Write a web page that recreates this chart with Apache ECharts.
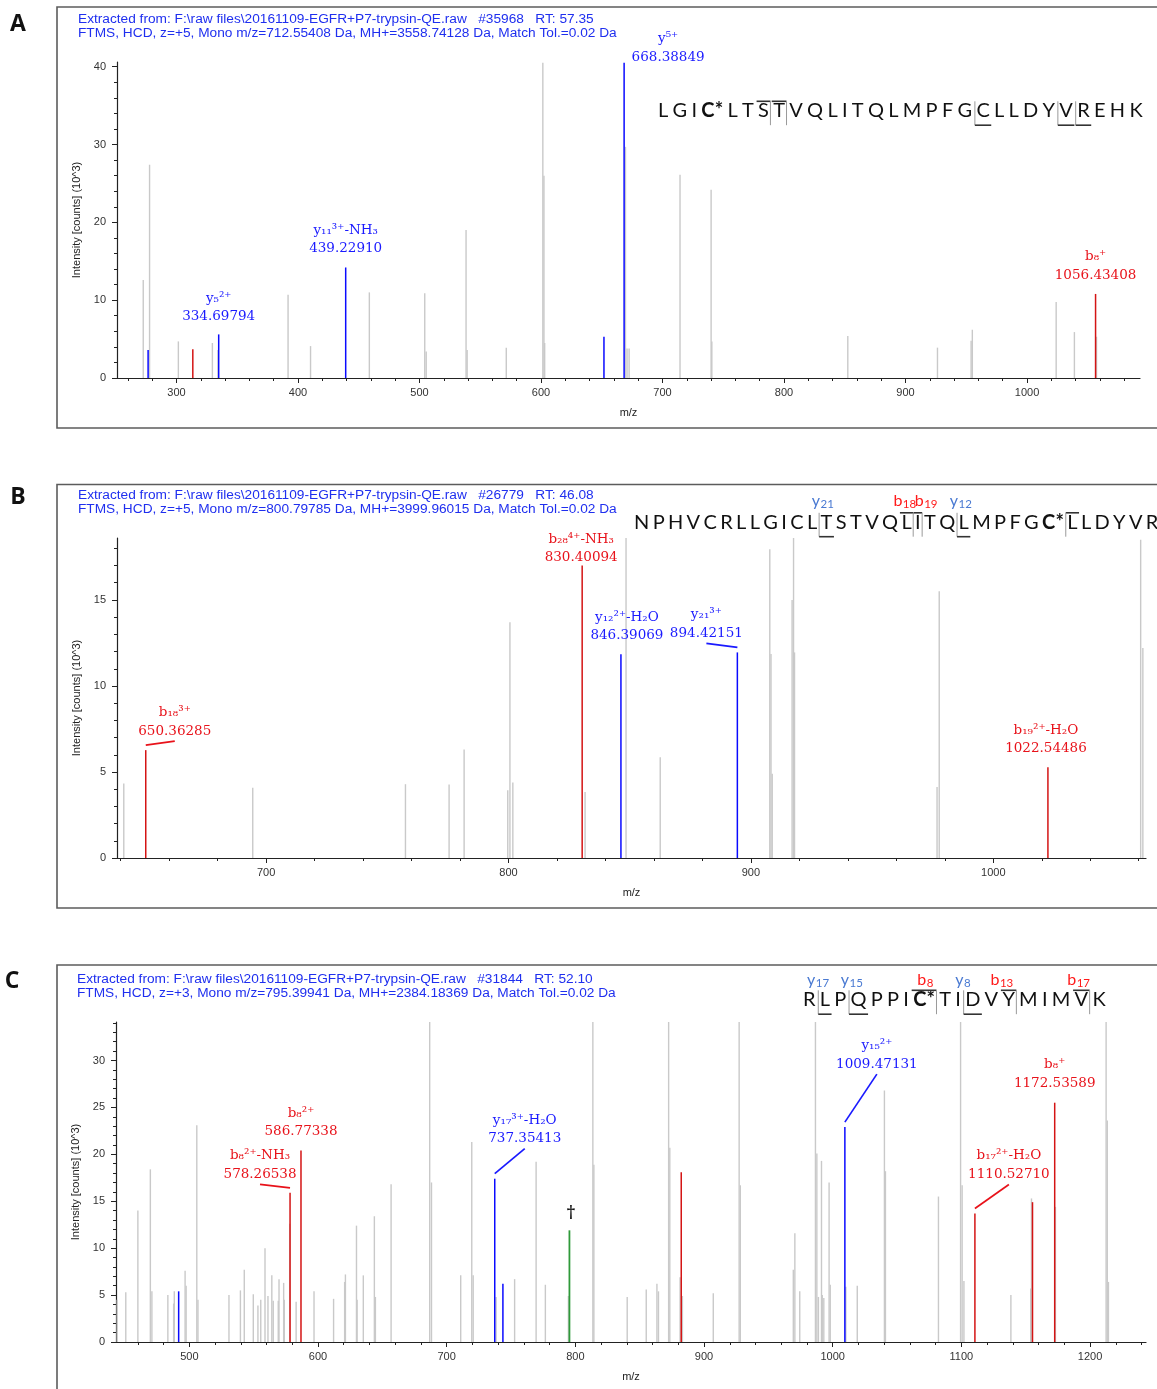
<!DOCTYPE html>
<html><head><meta charset="utf-8">
<script src="https://cdn.jsdelivr.net/npm/echarts@6/dist/echarts.min.js"></script>
<style>html,body{margin:0;padding:0;background:#fff}#c{width:1157px;height:1389px}</style>
</head><body><div id="c"></div>
<script>
// ---------------- DATA ----------------
// Panel A peaks [m/z, intensity (10^3)]
const A_gray = [[272.6,12.6],[277.8,27.4],[301.5,4.7],[329.5,4.5],[334.1,3.6],[391.8,10.7],[410.3,4.1],[458.7,11.0],[504.3,10.9],[505.5,3.4],[538.3,19.0],[539.2,3.6],[571.4,3.9],[601.5,40.5],[602.4,26.0],[603.0,4.5],[669.5,29.7],[670.8,3.8],[672.5,3.8],[714.4,26.1],[740.0,24.2],[740.6,4.7],[852.5,5.4],[926.3,3.9],[954.0,4.8],[955.0,6.2],[1024.0,9.75],[1039.0,5.9],[1057.2,5.3]];
const A_blue = [[276.6,3.6],[334.7,5.6],[439.23,14.2],[651.8,5.3],[668.39,40.5]];
const A_red = [[313.4,3.7],[1056.43,10.8]];
const A_ann = [[334.69794,5.6,'y\u2085\u00b2\u207a','334.69794'],[439.2291,14.2,'y\u2081\u2081\u00b3\u207a-NH\u2083','439.22910'],[668.38849,40.5,'y\u2075\u207a','668.38849'],[1056.43408,10.8,'b\u2088\u207a','1056.43408']];
const A_xTicks = [300,400,500,600,700,800,900,1000];
const A_yTicks = [0,10,20,30,40];

// Panel B peaks
const B_gray = [[641.3,4.33],[694.5,4.08],[757.5,4.29],[775.5,4.27],[781.7,6.3],[799.7,3.94],[800.6,13.7],[801.8,4.39],[831.6,3.84],[848.5,18.6],[862.6,5.86],[907.8,17.95],[908.3,11.86],[908.8,4.9],[917.0,15.0],[917.6,18.6],[918.0,11.95],[976.8,4.13],[977.7,15.5],[1060.8,18.5],[1061.7,12.2]];
const B_blue = [[846.39,11.84],[894.42,11.95]];
const B_red = [[650.36,6.27],[830.40,17.0],[1022.54,5.28]];
const B_ann = [[650.36285,6.27,'b\u2081\u2088\u00b3\u207a','650.36285'],[830.40094,17.0,'b\u2082\u2088\u2074\u207a-NH\u2083','830.40094'],[846.39069,11.84,'y\u2081\u2082\u00b2\u207a-H\u2082O','846.39069'],[894.42151,11.95,'y\u2082\u2081\u00b3\u207a','894.42151'],[1022.54486,5.28,'b\u2081\u2089\u00b2\u207a-H\u2082O','1022.54486']];
const B_xTicks = [700,800,900,1000];
const B_yTicks = [0,5,10,15];

// Panel C peaks
const C_gray = [[443.9,4.5],[450.6,5.3],[460.0,14.0],[469.7,18.4],[470.9,5.4],[483.3,5.0],[487.8,4.1],[488.3,5.4],[496.7,7.6],[497.5,6.0],[505.8,23.1],[506.7,4.5],[530.8,5.0],[539.7,5.5],[542.7,7.7],[549.7,5.1],[553.3,3.9],[555.5,4.5],[558.8,10.0],[561.1,4.9],[564.1,7.1],[565.2,4.4],[569.1,4.4],[569.7,6.7],[573.3,6.3],[573.8,4.5],[578.0,12.6],[583.0,4.3],[596.9,5.4],[612.1,4.6],[620.7,6.4],[621.3,7.2],[629.9,12.4],[630.4,4.5],[635.2,7.1],[643.8,13.4],[644.6,4.8],[656.8,16.8],[686.8,34.1],[688.2,17.0],[710.9,7.1],[719.5,21.3],[720.6,7.1],[738.4,4.8],[752.8,6.7],[769.5,19.2],[776.7,6.1],[794.6,4.9],[813.6,34.1],[814.4,18.9],[840.3,4.8],[855.1,5.6],[863.4,6.2],[864.6,5.4],[872.5,34.1],[873.4,20.7],[881.4,6.9],[883.2,4.9],[907.2,5.2],[927.3,34.1],[928.2,16.7],[969.4,7.7],[970.6,11.6],[974.4,5.4],[986.6,34.1],[987.7,20.1],[988.9,4.8],[991.3,19.3],[991.9,5.0],[993.1,4.7],[997.2,17.0],[998.1,6.1],[1010.2,5.9],[1019.1,6.0],[1040.2,26.8],[1041.0,18.2],[1082.2,15.5],[1099.4,34.1],[1100.6,16.7],[1102.0,6.5],[1138.5,5.0],[1153.9,5.7],[1154.5,15.3],[1173.1,14.4],[1212.5,34.1],[1213.4,23.6],[1214.3,6.4]];
const C_blue = [[491.7,5.4],[737.35,17.4],[743.7,6.2],[1009.47,22.9]];
const C_red = [[578.27,15.9],[586.77,20.4],[882.3,18.1],[1110.53,13.7],[1155.3,14.9],[1172.54,25.5]];
const C_green = [[795.4,11.9]];
const C_ann = [[578.26538,15.9,'b\u2088\u00b2\u207a-NH\u2083','578.26538'],[586.77338,20.4,'b\u2088\u00b2\u207a','586.77338'],[737.35413,17.4,'y\u2081\u2087\u00b3\u207a-H\u2082O','737.35413'],[795.4,11.9,'\u2020',''],[1009.47131,22.9,'y\u2081\u2085\u00b2\u207a','1009.47131'],[1172.53589,25.5,'b\u2088\u207a','1172.53589'],[1110.5271,13.7,'b\u2081\u2087\u00b2\u207a-H\u2082O','1110.52710']];
const C_xTicks = [500,600,700,800,900,1000,1100,1200];
const C_yTicks = [0,5,10,15,20,25,30];

// headers
const HEAD = [
 ['Extracted from: F:\\raw files\\20161109-EGFR+P7-trypsin-QE.raw   #35968   RT: 57.35','FTMS, HCD, z=+5, Mono m/z=712.55408 Da, MH+=3558.74128 Da, Match Tol.=0.02 Da'],
 ['Extracted from: F:\\raw files\\20161109-EGFR+P7-trypsin-QE.raw   #26779   RT: 46.08','FTMS, HCD, z=+5, Mono m/z=800.79785 Da, MH+=3999.96015 Da, Match Tol.=0.02 Da'],
 ['Extracted from: F:\\raw files\\20161109-EGFR+P7-trypsin-QE.raw   #31844   RT: 52.10','FTMS, HCD, z=+3, Mono m/z=795.39941 Da, MH+=2384.18369 Da, Match Tol.=0.02 Da']
];
const PANEL_LETTERS = ['A','B','C'];

// peptide sequences and fragment markers
const SEQ_A = 'L G I C* L T S T V Q L I T Q L M P F G C L L D Y V R E H K'.split(' ');
const MARKS_A = [[6,'b'],[7,'b'],[19,'y'],[24,'y'],[25,'y']];
const FRAG_A = [];
const SEQ_B = 'N P H V C R L L G I C L T S T V Q L I T Q L M P F G C* L L D Y V R E H K'.split(' ');
const MARKS_B = [[12,'y'],[17,'b'],[18,'b'],[21,'y'],[27,'bl']];
const FRAG_B = [[12,'y','21'],[17,'b','18'],[18,'b','19'],[21,'y','12']];
const SEQ_C = 'R L P Q P P I C* T I D V Y M I M V K'.split(' ');
const MARKS_C = [[1,'y'],[3,'y'],[7,'b'],[10,'y'],[12,'b'],[16,'b']];
const FRAG_C = [[1,'y','17'],[3,'y','15'],[7,'b','8'],[10,'y','8'],[12,'b','13'],[16,'b','17']];

// ---------------- LAYOUT / STYLE ----------------
const GRIDS = [
 {left:117, top:62, width:1023, height:316, xMin:251, xMax:1093, yMax:40.6, xT:A_xTicks, yT:A_yTicks, xs:20, ys:2},
 {left:117, top:538, width:1029, height:320, xMin:638.5, xMax:1063, yMax:18.6, xT:B_xTicks, yT:B_yTicks, xs:20, ys:1},
 {left:116, top:1022, width:1030, height:320, xMin:443, xMax:1243.5, yMax:34.1, xT:C_xTicks, yT:C_yTicks, xs:20, ys:1}
];
const BOXES = [[57,7,1130,421],[57,484.5,1130,423.5],[57,965,1130,440]];
const HEAD_POS = [[78,19,33],[78,495,509],[77,979,993]];
const LETTER_POS = [[18,24],[18,497],[12,981]];
// label layout: [dx from peak, dy of value line from peak top, leader line]
const A_annPos = [[0,-17.5,0],[0,-18.5,0],[44,-5.5,0],[0,-18.5,0]];
const B_annPos = [[29,-19,1],[-1,-8,0],[6,-18.6,0],[-31,-19,1],[-2,-18.6,0]];
const C_annPos = [[-30,-18.5,1],[0,-19,0],[30,-40,1],[1.5,-17,0],[32,-63,1],[0,-19.6,0],[34,-39,1]];
const PEP = [
 {seq:SEQ_A, marks:MARKS_A, frags:FRAG_A, fdx:[], left:658, ref:28, refC:1136, cy:111, fy:0},
 {seq:SEQ_B, marks:MARKS_B, frags:FRAG_B, fdx:[-4,-2,8,-3], left:634, ref:26, refC:1053, cy:522.5, fy:500.5},
 {seq:SEQ_C, marks:MARKS_C, frags:FRAG_C, fdx:[-7,-7,1,-10,-7,-3], left:803, ref:17, refC:1099, cy:1000, fy:980}
];

const COL = {gray:'#c9c9c9', blue:'#0a0aff', red:'#d41414', green:'#2f9a3a', lblBlue:'#1a1aff', lblRed:'#e8121a', head:'#1f2fef', fragY:'#4a7ad2', fragB:'#ff1a1a'};
const LABEL_FONT = '13.5px "DejaVu Serif"';
const SANS = '"Liberation Sans", Arial, sans-serif';
const PEP_FONT = 20;

// ---------------- BUILD ----------------
const chart = echarts.init(document.getElementById('c'), null, {renderer:'canvas'});
const mctx = document.createElement('canvas').getContext('2d');
function tw(t, font){ mctx.font = font; return mctx.measureText(t).width; }

function minorTicks(min, max, step, majors){
  const out=[]; let v=Math.ceil(min/step)*step;
  for(; v<=max+1e-9; v+=step){ const r=Math.round(v*1000)/1000; if(!majors.includes(r)) out.push(r); }
  return out;
}

const grid=[], xAxis=[], yAxis=[];
const axisText = {fontSize:11, fontFamily:SANS, color:'#333', formatter:function(v){return String(v);}};
GRIDS.forEach((g,i)=>{
  grid.push({left:g.left, top:g.top, width:g.width, height:g.height});
  xAxis.push({type:'value', gridIndex:i, position:'bottom', min:g.xMin, max:g.xMax,
    axisLine:{lineStyle:{color:'#222', width:1.2}},
    axisTick:{customValues:g.xT, length:5, lineStyle:{color:'#222'}},
    axisLabel:Object.assign({customValues:g.xT, margin:9}, axisText),
    splitLine:{show:false},
    name:'m/z', nameLocation:'middle', nameGap:29, nameTextStyle:{fontSize:11, fontFamily:SANS, color:'#222'}});
  xAxis.push({type:'value', gridIndex:i, position:'bottom', min:g.xMin, max:g.xMax,
    axisLine:{show:false}, axisLabel:{show:false}, splitLine:{show:false},
    axisTick:{customValues:minorTicks(g.xMin,g.xMax,g.xs,g.xT), length:3, lineStyle:{color:'#222'}}});
  yAxis.push({type:'value', gridIndex:i, position:'left', min:0, max:g.yMax,
    axisLine:{show:true, lineStyle:{color:'#222', width:1.2}},
    axisTick:{show:true, customValues:g.yT, length:5, lineStyle:{color:'#222'}},
    axisLabel:Object.assign({customValues:g.yT, margin:11}, axisText),
    splitLine:{show:false},
    name:'Intensity [counts] (10^3)', nameLocation:'middle', nameGap:34, nameTextStyle:{fontSize:11, fontFamily:SANS, color:'#222'}});
  yAxis.push({type:'value', gridIndex:i, position:'left', min:0, max:g.yMax,
    axisLine:{show:false}, axisLabel:{show:false}, splitLine:{show:false},
    axisTick:{show:true, customValues:minorTicks(0,g.yMax,g.ys,g.yT), length:3, lineStyle:{color:'#222'}}});
});

function peakSeries(i, data, color, w, z){
  return {type:'custom', xAxisIndex:2*i, yAxisIndex:2*i, data:data, z:z, silent:true, clip:false, animation:false,
    renderItem:function(p, api){
      const a=api.coord([api.value(0),0]), b=api.coord([api.value(0),api.value(1)]);
      return {type:'line', shape:{x1:a[0],y1:a[1],x2:b[0],y2:b[1]}, style:{stroke:color, lineWidth:w}};
    }};
}
function ionColor(s){ return s[0]==='y' ? COL.lblBlue : (s[0]==='b' ? COL.lblRed : '#111'); }
function txt(x,y,text,font,fill,align){
  return {type:'text', x:x, y:y, style:{text:text, font:font, fill:fill, textAlign:align||'center', textVerticalAlign:'middle', align:align||'center', verticalAlign:'middle'}};
}
function annSeries(i, ann, pos){
  return {type:'custom', xAxisIndex:2*i, yAxisIndex:2*i, z:10, silent:true, clip:false, animation:false,
    data: ann.map(a=>[a[0],a[1]]),
    renderItem:function(p, api){
      const k=p.dataIndex, a=ann[k], L=pos[k];
      const pt=api.coord([api.value(0),api.value(1)]);
      const col=ionColor(a[2]);
      const cx=pt[0]+L[0], vy=pt[1]+L[1];
      const ch=[];
      if(a[3]){
        ch.push(txt(cx,vy,a[3],LABEL_FONT,col));
        ch.push(txt(cx,vy-18.5,a[2],LABEL_FONT,col));
      } else {
        ch.push(txt(cx,vy,a[2],'bold 16px "DejaVu Serif"',col));
      }
      if(L[2]) ch.push({type:'line', shape:{x1:pt[0],y1:pt[1]-5,x2:cx,y2:vy+10}, style:{stroke:col, lineWidth:1.7}});
      return {type:'group', children:ch};
    }};
}

const series = [
  peakSeries(0,A_gray,COL.gray,1.4,1), peakSeries(0,A_blue,COL.blue,1.5,2), peakSeries(0,A_red,COL.red,1.5,2), annSeries(0,A_ann,A_annPos),
  peakSeries(1,B_gray,COL.gray,1.4,1), peakSeries(1,B_blue,COL.blue,1.5,2), peakSeries(1,B_red,COL.red,1.5,2), annSeries(1,B_ann,B_annPos),
  peakSeries(2,C_gray,COL.gray,1.4,1), peakSeries(2,C_blue,COL.blue,1.5,2), peakSeries(2,C_red,COL.red,1.5,2), peakSeries(2,C_green,COL.green,1.8,2), annSeries(2,C_ann,C_annPos)
];

// graphics: boxes, headers, panel letters, peptides
const graphic = [];
BOXES.forEach(b=>graphic.push({type:'rect', z:-10, shape:{x:b[0],y:b[1],width:b[2],height:b[3]}, style:{fill:'none', stroke:'#5c5c5c', lineWidth:1.6}}));
HEAD.forEach((h,i)=>{
  const p=HEAD_POS[i];
  graphic.push(txt(p[0],p[1],h[0],'13.7px '+SANS,COL.head,'left'));
  graphic.push(txt(p[0],p[2],h[1],'13.7px '+SANS,COL.head,'left'));
});
PANEL_LETTERS.forEach((l,i)=>graphic.push(txt(LETTER_POS[i][0],LETTER_POS[i][1],l,'bold 23px "Open Sans", sans-serif','#111')));

function pepFont(t){ return (t.indexOf('*')>=0?'bold ':'')+PEP_FONT+'px Lato'; }
PEP.forEach(P=>{
  const w=P.seq.map(t=>tw(t,pepFont(t)));
  let before=0; for(let j=0;j<P.ref;j++) before+=w[j];
  const gap=(P.refC-P.left-before-w[P.ref]/2)/P.ref;
  const xs=[]; let x=P.left;
  P.seq.forEach((t,j)=>{ xs.push(x); x+=w[j]+gap; });
  P.seq.forEach((t,j)=>graphic.push(txt(xs[j],P.cy,t,pepFont(t),'#111','left')));
  const capH=PEP_FONT*0.72, top=P.cy-capH/2+1, base=P.cy+capH/2+1;
  P.marks.forEach(m=>{
    const j=m[0], l=xs[j]-1.5, r=xs[j]+w[j]+1.5, yt=top-3.5, yb=base+6;
    const dark={stroke:'#333', lineWidth:1.6}, light={stroke:'#9a9a9a', lineWidth:1};
    if(m[1]==='y'){
      graphic.push({type:'line', shape:{x1:l,y1:yt,x2:l,y2:yb}, style:light});
      graphic.push({type:'line', shape:{x1:l,y1:yb,x2:r,y2:yb}, style:dark});
    } else if(m[1]==='b'){
      graphic.push({type:'line', shape:{x1:l,y1:yt,x2:r,y2:yt}, style:dark});
      graphic.push({type:'line', shape:{x1:r,y1:yt,x2:r,y2:yb}, style:light});
    } else {
      graphic.push({type:'line', shape:{x1:l,y1:yt,x2:r,y2:yt}, style:dark});
      graphic.push({type:'line', shape:{x1:l,y1:yt,x2:l,y2:yb}, style:light});
    }
  });
  P.frags.forEach((f,k)=>{
    const j=f[0]; const c=xs[j]+w[j]/2+(P.fdx[k]||0);
    const col=f[1]==='y'?COL.fragY:COL.fragB;
    const mf='16px Lato', sf='11.5px Lato';
    const w1=tw(f[1],mf), w2=tw(f[2],sf), x0=c-(w1+w2)/2;
    graphic.push(txt(x0,P.fy,f[1],mf,col,'left'));
    graphic.push(txt(x0+w1+0.5,P.fy+3.5,f[2],sf,col,'left'));
  });
});

chart.setOption({animation:false, backgroundColor:'#fff', grid:grid, xAxis:xAxis, yAxis:yAxis, series:series, graphic:{elements:graphic}});
</script></body></html>
